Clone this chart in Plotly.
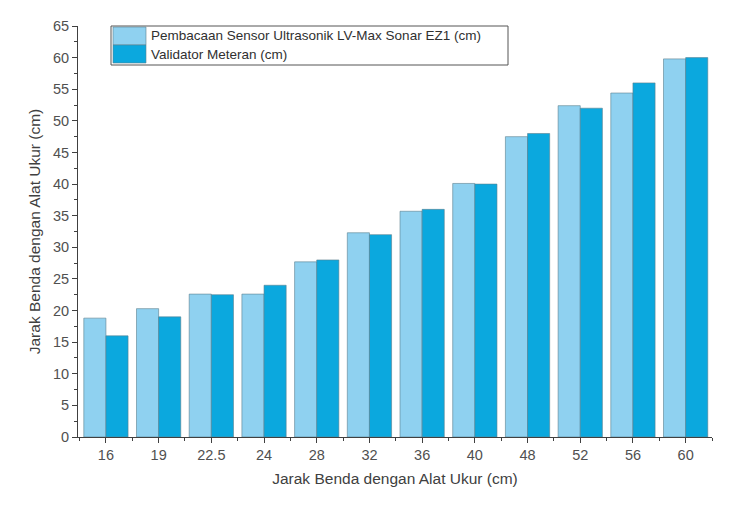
import plotly.graph_objects as go

categories = ["16", "19", "22.5", "24", "28", "32", "36", "40", "48", "52", "56", "60"]
sensor = [18.8, 20.3, 22.6, 22.6, 27.7, 32.3, 35.7, 40.1, 47.5, 52.4, 54.4, 59.8]
meteran = [16.0, 19.0, 22.5, 24.0, 28.0, 32.0, 36.0, 40.0, 48.0, 52.0, 56.0, 60.0]
series_names = ["Pembacaan Sensor Ultrasonik LV-Max Sonar EZ1 (cm)", "Validator Meteran (cm)"]
colors = ["#8fd1f0", "#0ba8de"]
y_ticks = list(range(0, 70, 5))

xpos = list(range(len(categories)))

fig = go.Figure()
for name, vals, c in zip(series_names, [sensor, meteran], colors):
    fig.add_trace(go.Bar(
        x=xpos, y=vals, name=name, marker=dict(color=c, line=dict(color="#5a7f8f", width=0.6)),
        showlegend=False,
    ))

font = "Liberation Sans, Arial, sans-serif"
fig.update_layout(
    width=736, height=509,
    margin=dict(l=78, r=24, t=26, b=72),
    paper_bgcolor="white", plot_bgcolor="white",
    barmode="group", bargap=0.16, bargroupgap=0,
    font=dict(family=font, size=12, color="#404040"),
    xaxis=dict(
        range=[-0.53, 11.5],
        tickmode="array", tickvals=xpos, ticktext=categories,
        showline=True, linecolor="#404040", linewidth=1,
        ticks="outside", ticklen=5, tickcolor="#404040",
        minor=dict(tick0=0.5, dtick=1, ticks="outside", ticklen=3, tickcolor="#404040"),
        showgrid=False, zeroline=False,
        tickfont=dict(size=14.5, color="#505050"),
        title=dict(text="Jarak Benda dengan Alat Ukur (cm)", font=dict(size=15.5, color="#404040"), standoff=10),
    ),
    yaxis=dict(
        range=[0, 65],
        tickmode="array", tickvals=y_ticks,
        showline=True, linecolor="#404040", linewidth=1,
        ticks="outside", ticklen=5, tickcolor="#404040",
        minor=dict(dtick=2.5, ticks="outside", ticklen=3, tickcolor="#404040"),
        showgrid=False, zeroline=False,
        tickfont=dict(size=14.5, color="#505050"),
        title=dict(text="Jarak Benda dengan Alat Ukur (cm)", font=dict(size=15.5, color="#404040"), standoff=8),
    ),
)

# Legend box (drawn manually to match the large swatches of the reference)
W, H = 634.0, 411.0  # plot area size in px
def px(x): return (x - 78) / W
def py(y): return (437 - y) / H

fig.add_shape(type="rect", xref="paper", yref="paper",
              x0=px(111), x1=px(508), y0=py(65), y1=py(26),
              line=dict(color="#555555", width=1), fillcolor="white")
rows = [(27, 45), (45, 63)]
for (top, bot), name, c in zip(rows, series_names, colors):
    fig.add_shape(type="rect", xref="paper", yref="paper",
                  x0=px(113), x1=px(146), y0=py(bot), y1=py(top),
                  line=dict(color="#5a7f8f", width=0.6), fillcolor=c)
    fig.add_annotation(xref="paper", yref="paper", x=px(149), y=py((top + bot) / 2),
                       text=name, showarrow=False, xanchor="left", yanchor="middle",
                       font=dict(family=font, size=13.5, color="#303030"))

fig.write_html("out.html")
